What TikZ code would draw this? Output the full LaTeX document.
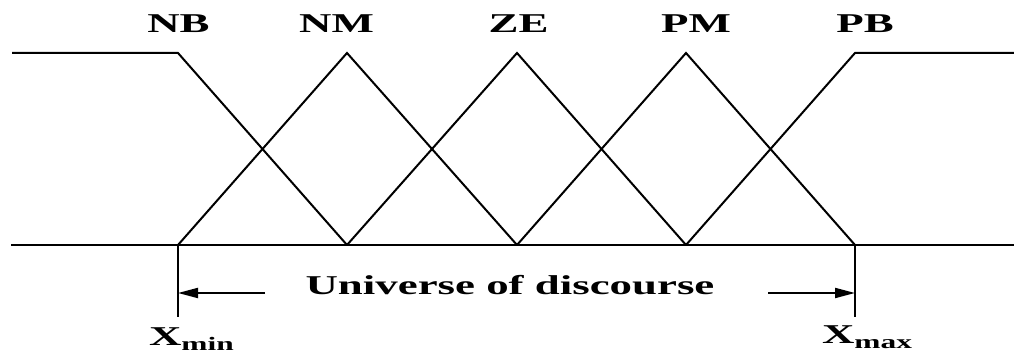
\documentclass[tikz,border=0pt]{standalone}
\usepackage{fontspec}
\setmainfont{Liberation Serif}
\newfontfamily\widefont[FakeStretch=1.65]{Liberation Serif}
\usetikzlibrary{arrows.meta, positioning}

\tikzset{
  setlabel/.style={font=\widefont\fontsize{13.6}{16}\selectfont\bfseries, inner sep=0pt, anchor=base},
  span/.style={-{Triangle[length=10pt,width=5pt]}}
}

\begin{document}
\begin{tikzpicture}[x=0.5pt, y=-0.5pt, line width=1pt]
\useasboundingbox (0,0) rectangle (1014,356);

% --- Points of the five fuzzy sets ---
\foreach \name/\x in {nb/178, nm/347, ze/517, pm/686, pb/855} {
  \coordinate (\name-top) at (\x,53);
  \coordinate (\name-bot) at (\x,245);
}
\coordinate (left-top) at (12,53);
\coordinate (right-top) at (1014,53);
\coordinate (left-bot) at (11,245);
\coordinate (right-bot) at (1014,245);

% --- Axis ---
\draw (left-bot) -- (right-bot);

% --- Membership functions ---
\draw (left-top) -- (nb-top) -- (nm-bot); % NB shoulder
\draw (nb-bot) -- (nm-top) -- (ze-bot); % NM
\draw (nm-bot) -- (ze-top) -- (pm-bot); % ZE
\draw (ze-bot) -- (pm-top) -- (pb-bot); % PM
\draw (pm-bot) -- (pb-top) -- (right-top); % PB shoulder

% --- Set names ---
\node[setlabel] (lab-nb) at (178.5,33) {NB};
\node[setlabel] (lab-nm) at (336.5,33) {NM};
\node[setlabel] (lab-ze) at (518.5,33) {ZE};
\node[setlabel] (lab-pm) at (696,33) {PM};
\node[setlabel] (lab-pb) at (865,33) {PB};

% --- Universe of discourse ---
\coordinate (xmin-end) at (178,317);
\coordinate (xmax-end) at (855,317);
\draw (nb-bot) -- (xmin-end);
\draw (pb-bot) -- (xmax-end);

\node[setlabel] (uod) at (510,295) {Universe of discourse};
\coordinate (xmin-tip) at (178,293);
\coordinate (xmax-tip) at (855,293);
\coordinate (uod-left) at (265,293);
\coordinate (uod-right) at (768,293);
\draw[span] (uod-left) -- (xmin-tip);
\draw[span] (uod-right) -- (xmax-tip);

\node[setlabel, anchor=base west] (lab-xmin) at (148,346) {X\textsubscript{min}};
\node[setlabel, anchor=base west] (lab-xmax) at (821,344) {X\textsubscript{max}};

\end{tikzpicture}
\end{document}
